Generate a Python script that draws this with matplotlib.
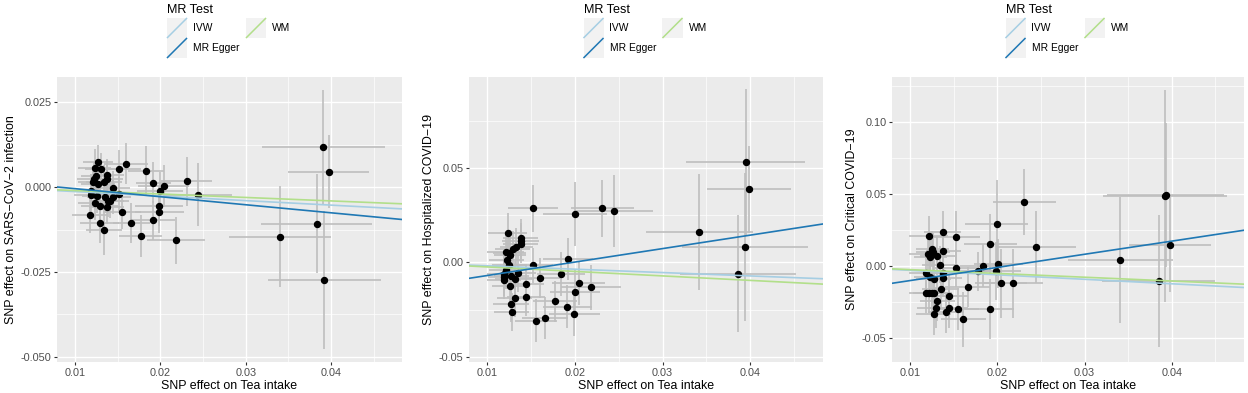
import matplotlib
matplotlib.use("Agg")
import matplotlib.pyplot as plt
from matplotlib.patches import Rectangle
from matplotlib.lines import Line2D
from matplotlib.ticker import MultipleLocator, FixedLocator

plt.rcParams['font.family'] = ['Liberation Sans', 'DejaVu Sans']
plt.rcParams['axes.unicode_minus'] = False

# colours (RColorBrewer "Paired")
col_ivw = '#a6cee3'
col_egger = '#1f78b4'
col_wm = '#b2df8a'

# ---- panel 1: SARS-CoV-2 infection ----
x1 = [0.0391, 0.0397, 0.0340, 0.0383, 0.0392, 0.0231, 0.0244, 0.0218, 0.0183, 0.0192,
      0.0204, 0.0200, 0.0198, 0.0199, 0.0191, 0.0177, 0.0166, 0.0160, 0.0152, 0.0155,
      0.0152, 0.0145, 0.0145, 0.0138, 0.0138, 0.0134, 0.0131, 0.0127, 0.0123, 0.0125,
      0.0122, 0.0121, 0.0127, 0.0126, 0.0119, 0.0119, 0.0123, 0.0129, 0.0135, 0.0137,
      0.0139, 0.0141, 0.0118, 0.0129, 0.0134]
y1 = [0.0117, 0.0045, -0.0146, -0.0108, -0.0274, 0.0017, -0.0023, -0.0157, 0.0048, 0.0013,
      0.0004, -0.0013, -0.0056, -0.0073, -0.0098, -0.0144, -0.0106, 0.0069, 0.0052, -0.0072,
      -0.0021, -0.0002, -0.0030, 0.0036, 0.0023, 0.0015, 0.0052, 0.0075, 0.0056, 0.0032,
      0.0025, 0.0015, 0.0008, -0.0026, -0.0024, -0.0011, -0.0048, -0.0056, -0.0028, -0.0060,
      -0.0040, -0.0042, -0.0081, -0.0107, -0.0125]
xerr1 = [0.0072, 0.0047, 0.0060, 0.0065, 0.0066, 0.0030, 0.0040, 0.0034, 0.0021, 0.0021,
         0.0030, 0.0027, 0.0028, 0.0029, 0.0026, 0.0025, 0.0022, 0.0026, 0.0025, 0.0022,
         0.0024, 0.0020, 0.0021, 0.0020, 0.0018, 0.0021, 0.0019, 0.0018, 0.0019, 0.0018,
         0.0019, 0.0017, 0.0020, 0.0018, 0.0020, 0.0017, 0.0019, 0.0022, 0.0021, 0.0020,
         0.0019, 0.0022, 0.0021, 0.0023, 0.0021]
yerr1 = [0.0169, 0.0108, 0.0149, 0.0145, 0.0204, 0.0072, 0.0093, 0.0070, 0.0074, 0.0060,
         0.0062, 0.0058, 0.0060, 0.0062, 0.0058, 0.0063, 0.0060, 0.0060, 0.0056, 0.0052,
         0.0050, 0.0048, 0.0050, 0.0046, 0.0048, 0.0050, 0.0047, 0.0048, 0.0055, 0.0045,
         0.0050, 0.0048, 0.0046, 0.0050, 0.0052, 0.0049, 0.0050, 0.0052, 0.0048, 0.0050,
         0.0047, 0.0049, 0.0055, 0.0058, 0.0075]

# ---- panel 2: Hospitalized COVID-19 ----
x2 = [0.0395, 0.0399, 0.0342, 0.0394, 0.0386, 0.0152, 0.0200, 0.0231, 0.0244, 0.0123,
      0.0138, 0.0138, 0.0138, 0.0133, 0.0129, 0.0121, 0.0125, 0.0126, 0.0122, 0.0192,
      0.0152, 0.0125, 0.0121, 0.0119, 0.0119, 0.0119, 0.0127, 0.0135, 0.0131, 0.0160,
      0.0184, 0.0144, 0.0204, 0.0218, 0.0200, 0.0126, 0.0144, 0.0131, 0.0177, 0.0127,
      0.0191, 0.0128, 0.0199, 0.0166, 0.0155]
y2 = [0.0529, 0.0388, 0.0162, 0.0081, -0.0060, 0.0286, 0.0257, 0.0286, 0.0273, 0.0155,
      0.0129, 0.0111, 0.0099, 0.0083, 0.0069, 0.0053, 0.0049, 0.0041, 0.0014, 0.0019,
      -0.0016, -0.0014, -0.0041, -0.0062, -0.0078, -0.0092, -0.0069, -0.0058, -0.0090, -0.0081,
      -0.0062, -0.0115, -0.0111, -0.0132, -0.0155, -0.0122, -0.0182, -0.0190, -0.0206, -0.0217,
      -0.0233, -0.0263, -0.0272, -0.0293, -0.0307]
xerr2 = [0.0068, 0.0048, 0.0061, 0.0072, 0.0066, 0.0028, 0.0036, 0.0036, 0.0045, 0.0022,
         0.0020, 0.0021, 0.0020, 0.0019, 0.0020, 0.0021, 0.0019, 0.0018, 0.0020, 0.0028,
         0.0023, 0.0020, 0.0019, 0.0020, 0.0018, 0.0019, 0.0020, 0.0021, 0.0022, 0.0024,
         0.0027, 0.0021, 0.0030, 0.0034, 0.0029, 0.0021, 0.0022, 0.0020, 0.0025, 0.0021,
         0.0028, 0.0020, 0.0029, 0.0026, 0.0024]
yerr2 = [0.0385, 0.0230, 0.0305, 0.0390, 0.0310, 0.0125, 0.0170, 0.0150, 0.0190, 0.0105,
         0.0100, 0.0095, 0.0100, 0.0098, 0.0096, 0.0100, 0.0098, 0.0095, 0.0100, 0.0110,
         0.0095, 0.0100, 0.0098, 0.0100, 0.0097, 0.0100, 0.0098, 0.0096, 0.0100, 0.0105,
         0.0115, 0.0100, 0.0115, 0.0120, 0.0118, 0.0100, 0.0102, 0.0100, 0.0110, 0.0100,
         0.0115, 0.0100, 0.0118, 0.0110, 0.0112]

# ---- panel 3: Critical COVID-19 ----
x3 = [0.0392, 0.0393, 0.0398, 0.0341, 0.0385, 0.0231, 0.0199, 0.0244, 0.0192, 0.0121,
      0.0137, 0.0152, 0.0138, 0.0125, 0.0126, 0.0120, 0.0123, 0.0131, 0.0134, 0.0152,
      0.0184, 0.0201, 0.0198, 0.0178, 0.0118, 0.0138, 0.0123, 0.0127, 0.0138, 0.0166,
      0.0204, 0.0218, 0.0135, 0.0118, 0.0122, 0.0125, 0.0127, 0.0144, 0.0131, 0.0129,
      0.0144, 0.0155, 0.0191, 0.0141, 0.0127, 0.0161]
y3 = [0.0483, 0.0490, 0.0148, 0.0039, -0.0106, 0.0443, 0.0293, 0.0132, 0.0150, 0.0206,
      0.0233, 0.0199, 0.0106, 0.0118, 0.0097, 0.0085, 0.0060, 0.0067, 0.0007, -0.0016,
      0.0000, 0.0014, -0.0037, -0.0037, -0.0048, -0.0048, -0.0076, -0.0088, -0.0085, -0.0145,
      -0.0122, -0.0122, -0.0164, -0.0185, -0.0185, -0.0185, -0.0187, -0.0206, -0.0247, -0.0289,
      -0.0289, -0.0298, -0.0300, -0.0323, -0.0337, -0.0370]
xerr3 = [0.0071, 0.0067, 0.0047, 0.0060, 0.0065, 0.0036, 0.0036, 0.0046, 0.0030, 0.0022,
         0.0021, 0.0028, 0.0020, 0.0019, 0.0020, 0.0021, 0.0019, 0.0020, 0.0021, 0.0024,
         0.0027, 0.0028, 0.0029, 0.0025, 0.0020, 0.0021, 0.0019, 0.0020, 0.0021, 0.0026,
         0.0030, 0.0034, 0.0021, 0.0020, 0.0019, 0.0020, 0.0021, 0.0022, 0.0020, 0.0021,
         0.0022, 0.0024, 0.0028, 0.0021, 0.0020, 0.0026]
yerr3 = [0.0735, 0.0500, 0.0330, 0.0437, 0.0460, 0.0230, 0.0300, 0.0250, 0.0210, 0.0140,
         0.0150, 0.0180, 0.0130, 0.0125, 0.0130, 0.0128, 0.0125, 0.0130, 0.0128, 0.0130,
         0.0150, 0.0170, 0.0200, 0.0135, 0.0130, 0.0130, 0.0128, 0.0130, 0.0132, 0.0140,
         0.0240, 0.0240, 0.0135, 0.0140, 0.0140, 0.0138, 0.0140, 0.0140, 0.0138, 0.0140,
         0.0140, 0.0145, 0.0210, 0.0140, 0.0140, 0.0190]

# regression fits: (IVW slope, Egger intercept, Egger slope, WM slope)
fits = [(-0.133, 0.0019, -0.237, -0.102),
        (-0.178, -0.0140, 0.711, -0.237),
        (-0.311, -0.0193, 0.911, -0.263)]

outcomes = ['SNP effect on SARS\u2212CoV\u22122 infection',
            'SNP effect on Hospitalized COVID\u221219',
            'SNP effect on Critical COVID\u221219']
ylims = [(-0.0515, 0.0324), (-0.0526, 0.098), (-0.0667, 0.131)]
ymajor = [0.025, 0.05, 0.05]
xlim = (0.0079, 0.0483)

W, H = 1248, 393
fig = plt.figure(figsize=(W / 100, H / 100), dpi=100)

# axes boxes in pixels: left, right, top, bottom
boxes = [(57, 402, 77, 362), (469, 823, 77, 362), (892, 1244, 77, 362)]
data = [(x1, y1, xerr1, yerr1), (x2, y2, xerr2, yerr2), (x3, y3, xerr3, yerr3)]


def px(x, y):
    return x / W, 1 - y / H


def draw_legend(cx):
    fs = dict(fontsize=7.4, va='center', ha='left', transform=fig.transFigure)
    fig.text(*px(cx - 62.5, 4), 'MR Test', fontsize=9.1, va='top', ha='left',
             transform=fig.transFigure)
    keys = [(cx - 62.5, 18, col_ivw, 'IVW'), (cx - 62.5, 38, col_egger, 'MR Egger'),
            (cx + 16.5, 18, col_wm, 'WM')]
    for kx, ky, c, lab in keys:
        x0, y0 = px(kx, ky + 20)
        fig.add_artist(Rectangle((x0, y0), 20 / W, 20 / H, transform=fig.transFigure,
                                 facecolor='#f2f2f2', edgecolor='none'))
        a = px(kx + 0.5, ky + 19.5)
        b = px(kx + 19.5, ky + 0.5)
        fig.add_artist(Line2D([a[0], b[0]], [a[1], b[1]], transform=fig.transFigure,
                              color=c, lw=1.1))
        fig.text(*px(kx + 26, ky + 10), lab, **fs)


for i, (l, r, t, b) in enumerate(boxes):
    ax = fig.add_axes([l / W, 1 - b / H, (r - l) / W, (b - t) / H])
    xs, ys, xe, ye = data[i]
    ax.set_facecolor('#ebebeb')
    ax.errorbar(xs, ys, yerr=ye, fmt='none', ecolor='#bebebe', elinewidth=1.2,
                capsize=0, zorder=2)
    ax.errorbar(xs, ys, xerr=xe, fmt='none', ecolor='#bebebe', elinewidth=1.2,
                capsize=0, zorder=2)
    ax.plot(xs, ys, 'o', color='black', markersize=4.3, zorder=3)
    ivw, eg_int, eg_slope, wm = fits[i]
    ax.axline((0, 0), slope=ivw, color=col_ivw, lw=1.2, zorder=4)
    ax.axline((0, 0), slope=wm, color=col_wm, lw=1.2, zorder=4)
    ax.axline((0, eg_int), slope=eg_slope, color=col_egger, lw=1.2, zorder=4)

    ax.set_xlim(*xlim)
    ax.set_ylim(*ylims[i])
    ax.xaxis.set_major_locator(FixedLocator([0.01, 0.02, 0.03, 0.04]))
    ax.xaxis.set_minor_locator(MultipleLocator(0.005))
    ax.yaxis.set_major_locator(MultipleLocator(ymajor[i]))
    ax.yaxis.set_minor_locator(MultipleLocator(ymajor[i] / 2))
    dec = 3 if i == 0 else 2
    ax.yaxis.set_major_formatter(plt.FuncFormatter(
        lambda v, p, d=dec: f'{v:.{d}f}'.replace('-0.' + '0' * d, '0.' + '0' * d)))
    ax.xaxis.set_major_formatter(plt.FuncFormatter(lambda v, p: f'{v:.2f}'))
    ax.grid(which='major', color='white', lw=1.0)
    ax.grid(which='minor', color='white', lw=0.5)
    ax.set_axisbelow(True)
    for s in ax.spines.values():
        s.set_visible(False)
    ax.tick_params(which='major', length=2.5, width=0.8, color='#333333',
                   labelsize=7.8, labelcolor='#4d4d4d', pad=1.5)
    ax.tick_params(which='minor', length=0)
    ax.set_xlabel('SNP effect on Tea intake', fontsize=8.9, labelpad=1.5)
    ax.set_ylabel(outcomes[i], fontsize=8.9, labelpad=2.5)
    draw_legend((l + r) / 2)

fig.savefig('out.png', dpi=100)
